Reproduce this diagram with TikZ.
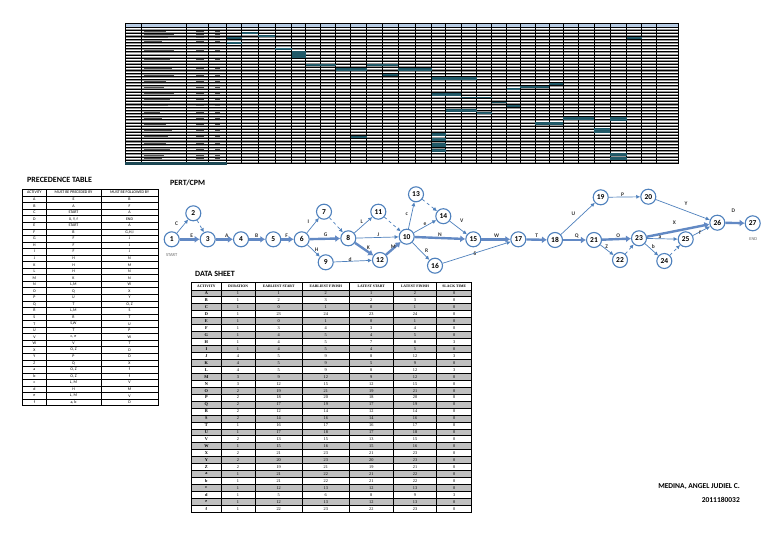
\documentclass[tikz,border=0pt]{standalone}
\usepackage{fontspec}
\setmainfont{Carlito}
\newfontfamily\dsfont{Liberation Serif}
\usetikzlibrary{arrows.meta}
\definecolor{evblue}{HTML}{4F81BD}
\definecolor{critblue}{HTML}{6289C4}
\definecolor{hdrblue}{HTML}{B8CCE4}
\definecolor{barteal}{HTML}{215968}
\definecolor{rowgray}{HTML}{C0C0C0}

\begin{document}
\begin{tikzpicture}[x=1pt,y=-1pt]
    \tikzstyle{evt}=[circle, draw=evblue, line width=1.1pt, fill=white, minimum size=15pt, inner sep=0pt, font=\bfseries\fontsize{7.5}{8}\selectfont]
    \tikzstyle{crit}=[draw=critblue, line width=2.4pt, -{Latex[length=5pt,width=7pt]}]
    \tikzstyle{act}=[draw=evblue, line width=0.7pt, -{Latex[length=4pt,width=4pt]}]
    \tikzstyle{dum}=[act, dashed]
    \tikzstyle{albl}=[font=\bfseries\fontsize{5.5}{6}\selectfont, text=black!80, inner sep=0pt]
    \tikzstyle{ttl}=[anchor=west, font=\bfseries\fontsize{8}{8}\selectfont, inner sep=0pt]
    \tikzstyle{ptxt}=[font=\fontsize{4}{4}\selectfont, inner sep=0pt]
    \tikzstyle{dtxt}=[font=\dsfont\fontsize{4.3}{4.3}\selectfont, inner sep=0pt]
    \tikzstyle{dhdr}=[font=\dsfont\bfseries\fontsize{3.7}{3.7}\selectfont, inner sep=0pt]

    \useasboundingbox (0,0) rectangle (768,543);
    \fill[white] (0,0) rectangle (768,543);

    % gantt chart
    \begin{scope}
        \fill[hdrblue] (125,23) rectangle (678.3,27);
        \fill[black!42] (125,27) rectangle (678.3,163);
        \foreach \r in {0,...,43} {
            \draw[white, line width=0.7pt] (125, 28.6 + 3.09*\r) -- (678.3, 28.6 + 3.09*\r);
            \draw[black, line width=0.5pt] (125, 27 + 3.09*\r) -- (678.3, 27 + 3.09*\r);
        }
        \foreach \r/\w in {1/22, 2/30, 3/24, 4/18, 7/30, 10/26, 13/28, 15/30, 17/22, 19/20, 21/30, 23/26, 25/24, 27/16, 29/18, 31/22, 33/28, 35/24, 37/22, 39/26, 41/20, 42/18} {
            \draw[black!65, line width=0.6pt] (144, 28.5 + 3.09*\r) -- +(\w, 0);
            \draw[black!65, line width=0.6pt] (196, 28.5 + 3.09*\r) -- +(8, 0);
            \draw[black!65, line width=0.6pt] (215, 28.5 + 3.09*\r) -- +(5, 0);
        }
        \foreach \x in {125, 141, 186, 208, 226.7, 241.7, 258.3, 275, 291.7, 305.7, 320, 335.7, 350.7, 366.7, 382.7, 398.3, 415, 431.7, 445.7, 461, 476.7, 491.7, 506.7, 520, 535, 549, 563.3, 578.3, 594, 610, 626.7, 641.7, 656.7, 678.3}
            \draw[line width=0.7pt] (\x, 23) -- (\x, 163);
        \foreach \xa/\xb/\ya/\yb in {241.7/258.3/32/34, 258.3/275/35/36.7, 226.7/241.7/37.3/39.5, 226.7/241.7/42.3/44.3, 275/291.7/48.3/50, 291.7/305.7/51.5/58, 305.7/335.7/64/66, 335.7/366.7/68.3/71, 366.7/398.3/64/66, 382.7/398.3/74/76, 398.3/431.7/68.3/71, 431.7/476.7/77.3/80, 506.7/520/88/90, 520/549/85.5/87.5, 549/563.3/83.3/85.3, 431.7/461/93.3/95.7, 461/491.7/96.7/98.3, 491.7/506.7/101.7/103.3, 506.7/520/105/106.7, 445.7/476.7/109.3/111.7, 476.7/491.7/112.3/114.3, 535/563.3/121.7/125, 563.3/594/117.3/120, 610/626.7/117.3/120.7, 594/610/128.3/133.3, 431.7/445.7/133.3/136, 431.7/445.7/138/141, 431.7/445.7/143/146.7, 431.7/445.7/149.3/151.7, 610/626.7/152.7/156, 610/626.7/157/160, 626.7/641.7/36.7/39.3, 350.7/366.7/135.7/137.7}
            \fill[barteal] (\xa, \ya) rectangle (\xb, \yb);
        \draw[line width=0.8pt] (125,23) rectangle (678.3,163);
        \fill[barteal!80!black] (125,162) rectangle (227,164.5);
    \end{scope}

    % precedence table
    \node[ttl] (ptitle) at (27,180) {PRECEDENCE TABLE};
    \begin{scope}
        \node[ptxt] (ph1) at (34.4,192.7) {ACTIVITY};
        \node[ptxt] (ph2) at (73.5,192.7) {MUST BE PRECEDED BY};
        \node[ptxt] (ph3) at (129.5,192.7) {MUST BE FOLLOWED BY};
        \foreach \a/\p/\f [count=\i from 0] in {A/E/B, B/A/F, C/START/A, D/{X, Y, f}/END, E/START/A, F/B/{G,H,I}, G/F/J, H/F/J, I/F/J, J/H/N, K/H/M, L/H/N, M/K/N, N/{L,M}/W, O/Q/X, P/U/Y, Q/T/{O, Z}, R/{L,M}/S, S/R/T, T/{S,W}/U, U/T/P, V/{c, e}/W, W/V/T, X/{O, Z}/D, Y/P/D, Z/Q/X, a/{O, Z}/f, b/{O, Z}/f, c/{L, M}/V, d/H/M, e/{L, M}/V, f/{a, b}/D} {
            \draw[line width=0.5pt] (22.7, 196 + 6.55*\i) -- (158, 196 + 6.55*\i);
            \node[ptxt] (pa\i) at (34.4, 199.3 + 6.55*\i) {\a};
            \node[ptxt] (pp\i) at (73.5, 199.3 + 6.55*\i) {\p};
            \node[ptxt] (pf\i) at (129.5, 199.3 + 6.55*\i) {\f};
        }
        \foreach \x in {46, 101}
            \draw[line width=0.6pt] (\x, 189.3) -- (\x, 405.6);
        \draw[line width=0.8pt] (22.7,189.3) rectangle (158,405.6);
    \end{scope}

    % data sheet
    \node[ttl] (dtitle) at (195,274) {DATA SHEET};
    \begin{scope}
        \foreach \a/\du/\es/\ef/\ls/\lf/\sl [count=\i from 0] in {A/1/1/2/1/2/0, B/1/2/3/2/3/0, C/1/0/1/0/1/0, D/1/23/24/23/24/0, E/1/0/1/0/1/0, F/1/3/4/3/4/0, G/1/4/5/4/5/0, H/1/4/5/7/8/3, I/1/4/5/4/5/0, J/4/5/9/8/12/3, K/4/5/9/5/9/0, L/4/5/9/8/12/3, M/3/9/12/9/12/0, N/3/12/15/12/15/0, O/2/19/21/19/21/0, P/2/18/20/18/20/0, Q/2/17/19/17/19/0, R/2/12/14/12/14/0, S/2/14/16/14/16/0, T/1/16/17/16/17/0, U/1/17/18/17/18/0, V/2/13/15/13/15/0, W/1/15/16/15/16/0, X/2/21/23/21/23/0, Y/2/20/23/20/23/0, Z/2/19/21/19/21/0, a/1/21/22/21/22/0, b/1/21/22/21/22/0, c/1/12/13/12/13/0, d/1/5/6/8/9/3, e/1/12/13/12/13/0, f/1/22/23/22/23/0} {
            \ifodd\i\else
                \fill[rowgray] (191.7, 289.8 + 6.95*\i) rectangle (471.7, 296.75 + 6.95*\i);
            \fi
            \draw[line width=0.6pt] (191.7, 289.8 + 6.95*\i) -- (471.7, 289.8 + 6.95*\i);
            \node[dtxt, font=\dsfont\bfseries\fontsize{4.3}{4.3}\selectfont] (da\i) at (206.4, 293.3 + 6.95*\i) {\a};
            \node[dtxt] (dd\i) at (238, 293.3 + 6.95*\i) {\du};
            \node[dtxt] (de\i) at (278.7, 293.3 + 6.95*\i) {\es};
            \node[dtxt] (df\i) at (325.8, 293.3 + 6.95*\i) {\ef};
            \node[dtxt] (dl\i) at (371.3, 293.3 + 6.95*\i) {\ls};
            \node[dtxt] (dm\i) at (415, 293.3 + 6.95*\i) {\lf};
            \node[dtxt] (ds\i) at (454.2, 293.3 + 6.95*\i) {\sl};
        }
        \foreach \x/\h in {206.4/ACTIVITY, 238/DURATION, 278.7/EARLIEST START, 325.8/EARLIEST FINISH, 371.3/LATEST START, 415/LATEST FINISH, 454.2/SLACK TIME}
            \node[dhdr] (dh\x) at (\x, 286.3) {\h};
        \foreach \x in {221, 255, 302.3, 349.3, 393.3, 436.7}
            \draw[line width=0.6pt] (\x, 282.7) -- (\x, 512.2);
        \draw[line width=1pt] (191.7,282.7) rectangle (471.7,512.2);
    \end{scope}

    % pert / cpm network
    \node[ttl] (ntitle) at (170,182.5) {PERT/CPM};
    \node[evt] (n1) at (171.7,239.3) {1};
    \node[evt] (n2) at (193.3,213.3) {2};
    \node[evt] (n3) at (207.7,239.3) {3};
    \node[evt] (n4) at (241,239.3) {4};
    \node[evt] (n5) at (273.3,239.3) {5};
    \node[evt] (n6) at (301.7,239.3) {6};
    \node[evt] (n7) at (324,211.7) {7};
    \node[evt] (n8) at (348.3,238.3) {8};
    \node[evt] (n9) at (325.7,262.3) {9};
    \node[evt] (n10) at (406.7,236.7) {10};
    \node[evt] (n11) at (378.3,211.7) {11};
    \node[evt] (n12) at (380,260) {12};
    \node[evt] (n13) at (416,194.3) {13};
    \node[evt] (n14) at (443.3,216.2) {14};
    \node[evt] (n15) at (473.3,239.3) {15};
    \node[evt] (n16) at (435,265.7) {16};
    \node[evt] (n17) at (518.3,239.3) {17};
    \node[evt] (n18) at (555,240) {18};
    \node[evt] (n19) at (600.7,197.3) {19};
    \node[evt] (n20) at (648.3,196.7) {20};
    \node[evt] (n21) at (594,240) {21};
    \node[evt] (n22) at (620,260) {22};
    \node[evt] (n23) at (639,238.3) {23};
    \node[evt] (n24) at (664.3,261) {24};
    \node[evt] (n25) at (685.7,239.3) {25};
    \node[evt] (n26) at (717.3,222.7) {26};
    \node[evt] (n27) at (752.7,223.3) {27};

    \draw[act] (n1) -- (n2);
    \draw[dum] (n2) -- (n3);
    \draw[crit] (n1) -- (n3);
    \draw[crit] (n3) -- (n4);
    \draw[crit] (n4) -- (n5);
    \draw[crit] (n5) -- (n6);
    \draw[act] (n6) -- (n7);
    \draw[crit] (n6) -- (n8);
    \draw[act] (n6) -- (n9);
    \draw[dum] (n7) -- (n8);
    \draw[act] (n8) -- (n11);
    \draw[act] (n8) -- (n10);
    \draw[crit] (n8) -- (n12);
    \draw[act] (n9) -- (n12);
    \draw[dum] (n11) -- (n10);
    \draw[crit] (n12) -- (n10);
    \draw[act] (n10) -- (n13);
    \draw[act] (n10) -- (n14);
    \draw[dum] (n13) -- (n14);
    \draw[crit] (n10) -- (n15);
    \draw[act] (n10) -- (n16);
    \draw[act] (n14) -- (n15);
    \draw[crit] (n15) -- (n17);
    \draw[act] (n16) -- (n17);
    \draw[crit] (n17) -- (n18);
    \draw[act] (n18) -- (n19);
    \draw[crit] (n18) -- (n21);
    \draw[act] (n19) -- (n20);
    \draw[act] (n20) -- (n26);
    \draw[crit] (n21) -- (n23);
    \draw[act] (n21) -- (n22);
    \draw[dum] (n22) -- (n23);
    \draw[crit] (n23) -- (n26);
    \draw[act] (n23) -- (n25);
    \draw[act] (n23) -- (n24);
    \draw[dum] (n24) -- (n25);
    \draw[act] (n25) -- (n26);
    \draw[crit] (n26) -- (n27);

    { \bfseries
        \foreach \nm/\x/\y/\t in {lC/176.7/223.3/C, lE/191.7/235.5/E, lA/226.7/236/A, lB/256.7/236/B, lF/286.7/236/F, lI/308.3/221.7/I, lG/325.7/234.5/G, lH/316.7/250/H, lL/361.7/221.7/L, lJ/378.3/234.5/J, lK/368.3/247.3/K, ld/350/259.3/d, lM/393.3/246.7/M, lc/406.7/214/c, le/425/224/e, lN/440/235/N, lR/426.7/250.7/R, lV/461.7/221/V, lW/496.7/236/W, lS/475/254/S, lT/536.7/236/T, lU/573.3/214/U, lQ/576.7/236/Q, lP/622.7/195/P, lY/686/203.3/Y, lO/618.3/236/O, lZ/606.7/246.7/Z, lX/674.3/222.7/X, la/660/237.3/a, lb/653.3/246.7/b, lf/700/232.7/f, lD/733.3/210.7/D}
            \node[albl] (\nm) at (\x, \y) {\t};
    }
    \node[font=\fontsize{4.5}{5}\selectfont, text=black!60, inner sep=0pt] (start) at (171.7,255) {START};
    \node[font=\fontsize{4.5}{5}\selectfont, text=black!60, inner sep=0pt] (end) at (753.3,239.3) {END};

    % name
    \node[anchor=east, font=\bfseries\fontsize{7.5}{8}\selectfont, inner sep=0pt] (nm) at (740,486.7) {MEDINA, ANGEL JUDIEL C.};
    \node[anchor=east, font=\bfseries\fontsize{7.5}{8}\selectfont, inner sep=0pt] (idno) at (740,500) {2011180032};
\end{tikzpicture}
\end{document}
